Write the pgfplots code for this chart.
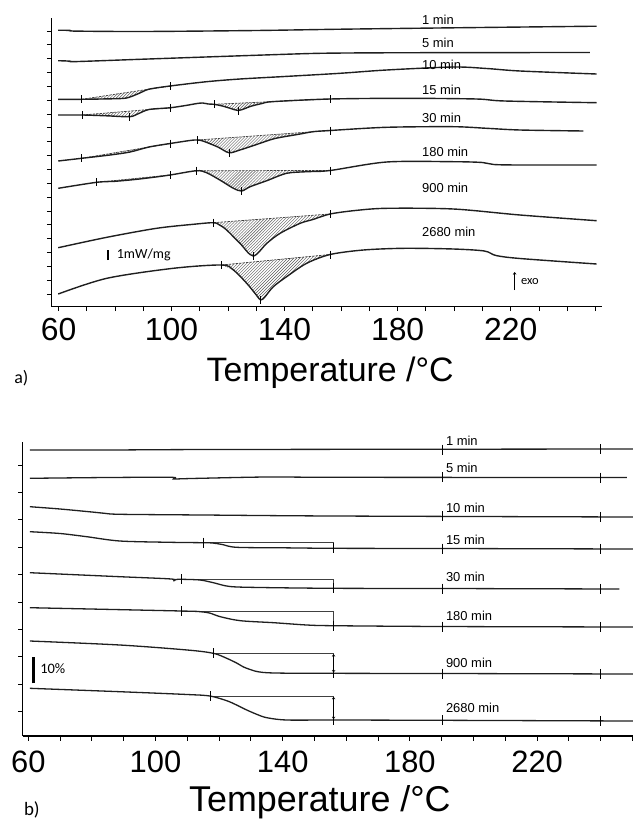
\documentclass[border=0pt]{standalone}
\usepackage{fontspec}
\setmainfont{Liberation Sans}
\newfontfamily\calib{Carlito}
\usepackage{pgfplots}
\pgfplotsset{compat=1.18}
\usetikzlibrary{patterns,arrows.meta}

\pgfplotsset{
  panel/.style={scale only axis, clip=false,
    axis x line*=bottom, axis y line*=left,
    axis line style={line width=1.1bp, black},
    tick align=outside,
    major tick length=4.5bp, minor tick length=4.5bp,
    tick style={line width=0.8bp, black},
    yticklabels={},
    xtick={60,100,140,180,220}, xticklabels={60,100,140,180,220},
    minor xtick={70,80,90,110,120,130,150,160,170,190,200,210,230,240,250},
  },
  dsc/.style={line width=1.4bp, black!88, smooth, mark=none},
  hatch/.style={draw=none, pattern=north east lines, pattern color=black!65},
  base/.style={line width=0.7bp, black!75, dash pattern=on 2.5bp off 1bp, mark=none},
  tk/.style={only marks, mark=|, mark size=4bp, mark options={line width=0.7bp, black}},
  brk/.style={line width=0.6bp, black!75, mark=none},
}
\tikzset{lab/.style={anchor=west, font=\fontsize{13}{13}\selectfont, inner sep=0pt}}

\begin{document}
\begin{tikzpicture}
\path[use as bounding box] (0,0) rectangle (633bp,-821bp);

% ---------------- a) DSC ----------------
\begin{axis}[panel, at={(51.3bp,-306.7bp)}, anchor=south west,
  width=550.2bp, height=288.7bp,
  xmin=57.45, xmax=252.14, ymin=0, ymax=288.7,
  ytick={12.74,26.58,...,276},
  xticklabel style={font=\fontsize{32}{32}\selectfont, anchor=base, inner sep=0pt, yshift=-28.8bp},
]
% hatched areas
\addplot[hatch] coordinates {(68.2,207.4)(75,207.7)(82.4,208.2)(85,209.4)(88.8,213.7)(92,217.5)} --cycle;
\addplot[hatch] coordinates {(68.4,191.7)(77,190.9)(85.1,190.0)(88,192.7)(92,197.2)} --cycle;
\addplot[hatch] coordinates {(115,202.4)(118,200.7)(121,198.2)(123.6,196.2)(126,198.2)(128,200.4)(132,203.2)(136,205.1)(156.1,207.7)} --cycle;
\addplot[hatch] coordinates {(68.2,148.4)(78.2,151.7)(85.3,154.7)(92,159.7)} --cycle;
\addplot[hatch] coordinates {(109,166.7)(111.1,165.7)(116.4,159.7)(120.3,154.0)(124.2,156.7)(130.6,162.7)(136.6,168.2)(145.5,172.7)(150,175.0)(156.1,176.2)} --cycle;
\addplot[hatch] coordinates {(73.5,124.4)(80,125.4)(87,127.2)(93,129.2)(99.5,131.7)} --cycle;
\addplot[hatch] coordinates {(108.9,136.0)(112.4,134.0)(117.1,126.7)(121.9,118.4)(124.8,115.7)(127.8,120.0)(133.7,126.0)(140.7,133.4)(147.8,135.0)(156.1,136.2)} --cycle;
\addplot[hatch] coordinates {(114.8,84.0)(117,81.7)(119.5,76.7)(124.2,63.4)(128.9,50.7)(133.7,63.4)(138.4,73.4)(145.5,83.4)(150,87.2)(156.1,92.7)} --cycle;
\addplot[hatch] coordinates {(117.7,41.7)(121.9,36.7)(126.6,23.4)(130,11.7)(131.5,6.7)(133,9.7)(136,20.0)(140.7,30.0)(147.8,43.4)(156.1,52.2)} --cycle;
% baselines
\addplot[base] coordinates {(68.2,207.4)(99.5,220.7)};
\addplot[base] coordinates {(68.4,191.7)(99.4,198.9)};
\addplot[base] coordinates {(115,202.4)(156.1,207.7)};
\addplot[base] coordinates {(68.2,148.4)(99.5,163.2)};
\addplot[base] coordinates {(109,166.7)(156.1,176.2)};
\addplot[base] coordinates {(73.5,124.4)(99.5,131.7)};
\addplot[base] coordinates {(108.9,136.0)(156.1,136.2)};
\addplot[base] coordinates {(114.8,84.0)(156.1,92.7)};
\addplot[base] coordinates {(117.7,41.7)(156.1,52.2)};
% curves
\addplot[dsc] coordinates {(59.9,276.5)(64,276.3)(66,275.6)(90,275.2)(130,276.2)(160,277.5)(200,278.9)(250.4,280.5)};
\addplot[dsc] coordinates {(59.9,246.0)(64,245.6)(66,245.1)(88.8,247.4)(110,249.5)(134.8,251.9)(152.5,253.4)(175,253.9)(210,254.1)(248,254.2)};
\addplot[dsc] coordinates {(59.9,207.4)(68.2,207.4)(75,207.7)(82.4,208.2)(85,209.4)(88.8,213.7)(92,217.5)(99.5,220.7)(112.4,225.0)(124.2,227.7)(140,230.2)(159.6,233.4)(176.1,236.7)(199.6,239.7)(211.5,238.2)(223.3,235.7)(250.4,232.7)};
\addplot[dsc] coordinates {(59.9,191.7)(68.4,191.7)(77,190.9)(85.1,190.0)(88,192.7)(92,197.2)(99.4,198.9)(105,201.2)(109,203.2)(111,203.7)(113,202.7)(115,202.4)(118,200.7)(121,198.2)(123.6,196.2)(126,198.2)(128,200.4)(132,203.2)(136,205.1)(156.1,207.7)(182.2,208.4)(207.9,207.7)(217.9,205.7)(250.4,204.0)};
\addplot[dsc] coordinates {(59.9,145.7)(68.2,148.4)(78.2,151.7)(85.3,154.7)(92,159.7)(99.5,163.2)(106.5,166.2)(109,166.7)(111.1,165.7)(116.4,159.7)(120.3,154.0)(124.2,156.7)(130.6,162.7)(136.6,168.2)(145.5,172.7)(150,175.0)(156.1,176.2)(176,179.4)(199.7,180.0)(211.5,178.4)(223.3,176.7)(245.7,175.7)};
\addplot[dsc] coordinates {(59.9,118.4)(73.5,124.4)(80,125.4)(87,127.2)(93,129.2)(99.5,131.7)(108.9,136.0)(112.4,134.0)(117.1,126.7)(121.9,118.4)(124.8,115.7)(127.8,120.0)(133.7,126.0)(140.7,133.4)(147.8,135.0)(156.1,136.2)(176.1,144.7)(199.7,145.0)(210,144.2)(214,142.2)(223.3,141.7)(250.4,141.7)};
\addplot[dsc] coordinates {(59.9,59.0)(77.1,69.4)(94.7,78.4)(107.7,82.4)(114.8,84.0)(117,81.7)(119.5,76.7)(124.2,63.4)(128.9,50.7)(133.7,63.4)(138.4,73.4)(145.5,83.4)(150,87.2)(156.1,92.7)(165,96.2)(176.1,98.4)(199.7,97.7)(223.3,91.7)(250.4,86.0)};
\addplot[dsc] coordinates {(59.9,12.7)(77.1,28.4)(100.6,38.4)(117.7,41.7)(121.9,36.7)(126.6,23.4)(130,11.7)(131.5,6.7)(133,9.7)(136,20.0)(140.7,30.0)(147.8,43.4)(156.1,52.2)(167.9,56.7)(182.2,58.4)(199.7,57.7)(210.7,55.7)(214.8,51.2)(223.3,48.2)(250.4,42.7)};
% tick marks on the curves
\addplot[tk] coordinates {(68.2,207.4)(99.5,220.7)
  (68.4,191.7)(85.1,190.0)(99.4,198.9)(115,202.4)(123.6,196.2)(156.1,207.7)
  (68.2,148.4)(99.5,163.2)(109,166.7)(120.3,154.0)(156.1,176.2)
  (73.5,124.4)(99.5,131.7)(108.9,136.0)(124.8,115.7)(156.1,136.2)
  (114.8,84.0)(128.9,50.7)(156.1,92.7)
  (117.7,41.7)(131.5,6.7)(156.1,52.2)};
% scale bar and exo arrow
\addplot[line width=2bp, black, mark=none] coordinates {(77.6,46.7)(77.6,56.7)};
\addplot[line width=0.6bp, black, mark=none, -{Straight Barb[length=2bp,width=3bp]}] coordinates {(221.4,16.7)(221.4,34.7)};
\node[anchor=west, inner sep=0pt, font=\calib\fontsize{14}{14}\selectfont] at (axis cs:80.6,51.7) {1mW/mg};
\node[anchor=west, inner sep=0pt, font=\calib\fontsize{12.5}{12.5}\selectfont] at (axis cs:223.6,25) {exo};
% curve labels
\node[lab] at (axis cs:188.6,286.7) {1 min};
\node[lab] at (axis cs:188.6,263.4) {5 min};
\node[lab] at (axis cs:188.6,241.7) {10 min};
\node[lab] at (axis cs:188.6,217.2) {15 min};
\node[lab] at (axis cs:188.6,189.2) {30 min};
\node[lab] at (axis cs:188.6,155.2) {180 min};
\node[lab] at (axis cs:188.6,118.7) {900 min};
\node[lab] at (axis cs:188.6,75) {2680 min};
\node[anchor=base, inner sep=0pt, font=\fontsize{34}{34}\selectfont] at (axis cs:156.1,-75) {Temperature /°C};
\node[anchor=base west, inner sep=0pt, font=\calib\fontsize{18}{18}\selectfont] at (axis cs:44.3,-76.3) {a)};
\end{axis}

% ---------------- b) TGA ----------------
\begin{axis}[panel, at={(22.7bp,-736bp)}, anchor=south west,
  width=610.3bp, height=294.3bp,
  xmin=58.24, xmax=250.16, ymin=0, ymax=294.3,
  ytick={24.31,51.72,...,272},
  xticklabel style={font=\fontsize{31}{31}\selectfont, anchor=base, inner sep=0pt, yshift=-32.3bp},
]
% brackets
\addplot[brk] coordinates {(115,193.5)(156,193.5)(156,187.7)};
\addplot[brk] coordinates {(108.2,156.7)(156,156.7)(156,147.7)};
\addplot[brk] coordinates {(108.2,125.0)(156,125.0)(156,110.3)};
\addplot[brk] coordinates {(118.2,82.7)(156,82.7)(156,62.7)};
\addplot[brk] coordinates {(117.1,40.0)(156,40.0)(156,16.0)};
\addplot[line width=0.5bp, black, mark=none, {Straight Barb[length=2bp,width=3bp]}-{Straight Barb[length=2bp,width=3bp]}] coordinates {(156,81.9)(156,63.5)};
\addplot[line width=0.5bp, black, mark=none, {Straight Barb[length=2bp,width=3bp]}-{Straight Barb[length=2bp,width=3bp]}] coordinates {(156,39.2)(156,16.8)};
% curves
\addplot[dsc, line width=1.3bp] coordinates {(60.5,286)(85,286)(120,286.5)(250.2,287)};
\addplot[dsc, line width=1.3bp] coordinates {(60.5,257.7)(85,258.5)(105,258.7)(105.7,257.0)(108,257.2)(114,257.7)(135,259.0)(158,258.7)(248.2,258.5)};
\addplot[dsc, line width=1.3bp] coordinates {(60.5,229.3)(70,227.0)(80,224.0)(84,222.7)(89,221.7)(115,221.0)(156,220.0)(250.2,219.0)};
\addplot[dsc, line width=1.3bp] coordinates {(60.5,204.3)(70,202.5)(78.4,199.3)(88.8,195.0)(104.6,193.7)(115,193.3)(118,193.0)(121,191.5)(125.5,188.7)(140,188.2)(156,187.7)(190,187.5)(250.2,187.0)};
\addplot[dsc, line width=1.3bp] coordinates {(60.5,163.3)(88.8,159.3)(105,157.0)(105.6,155.0)(106.5,156.5)(108.2,156.7)(114,156.0)(118.2,153.3)(123.4,149.5)(133,148.5)(156,147.7)(190,147.5)(245.9,147.0)};
\addplot[dsc, line width=1.3bp] coordinates {(60.5,128.3)(108.2,125.0)(114,124.3)(117,123.0)(120.4,119.3)(126.7,115.3)(137.2,113.3)(147.6,111.0)(156,110.3)(190,109.5)(250.2,109.0)};
\addplot[dsc, line width=1.3bp] coordinates {(60.5,95.0)(88.8,91.0)(110,86.0)(118.2,82.7)(122.4,77.7)(125.5,73.0)(128.7,67.7)(135,63.3)(156,62.7)(190,62.5)(250.2,62.0)};
\addplot[dsc, line width=1.3bp] coordinates {(60.5,47.7)(88.8,44.3)(110,41.5)(117.1,40.0)(122.4,35.3)(125.5,31.0)(128.7,26.0)(132,21.5)(135,18.3)(141.3,16.0)(156,16.0)(190,15.7)(250.2,15.0)};
% tick marks
\addplot[tk, mark size=5bp] coordinates {(190.3,286.3)(240,286.8)
  (190.3,258.6)(240,258.5)
  (190.3,219.6)(240,219.2)
  (115,193.3)(156,187.7)(190.3,187.5)(240,187.1)
  (108.2,156.7)(156,147.7)(190.3,147.5)(240,147.1)
  (108.2,125.0)(156,110.3)(190.3,109.5)(240,109.1)
  (118.2,82.7)(156,62.7)(190.3,62.5)(240,62.1)
  (117.1,40.0)(156,16.0)(190.3,15.7)(240,15.2)};
% scale bar
\addplot[line width=2.5bp, black, mark=none] coordinates {(61.6,52.7)(61.6,78.7)};
\node[anchor=west, inner sep=0pt, font=\calib\fontsize{14.5}{14.5}\selectfont] at (axis cs:63.7,67) {10\%};
% labels
\node[lab] at (axis cs:191.3,295.3) {1 min};
\node[lab] at (axis cs:191.3,267.7) {5 min};
\node[lab] at (axis cs:191.3,227.7) {10 min};
\node[lab] at (axis cs:191.3,196) {15 min};
\node[lab] at (axis cs:191.3,159.3) {30 min};
\node[lab] at (axis cs:191.3,120) {180 min};
\node[lab] at (axis cs:191.3,72.7) {900 min};
\node[lab] at (axis cs:191.3,27.7) {2680 min};
\node[anchor=base, inner sep=0pt, font=\fontsize{36}{36}\selectfont] at (axis cs:151.7,-75.7) {Temperature /°C};
\node[anchor=base west, inner sep=0pt, font=\calib\fontsize{19}{19}\selectfont] at (axis cs:58.6,-79) {b)};
\end{axis}
\end{tikzpicture}
\end{document}
